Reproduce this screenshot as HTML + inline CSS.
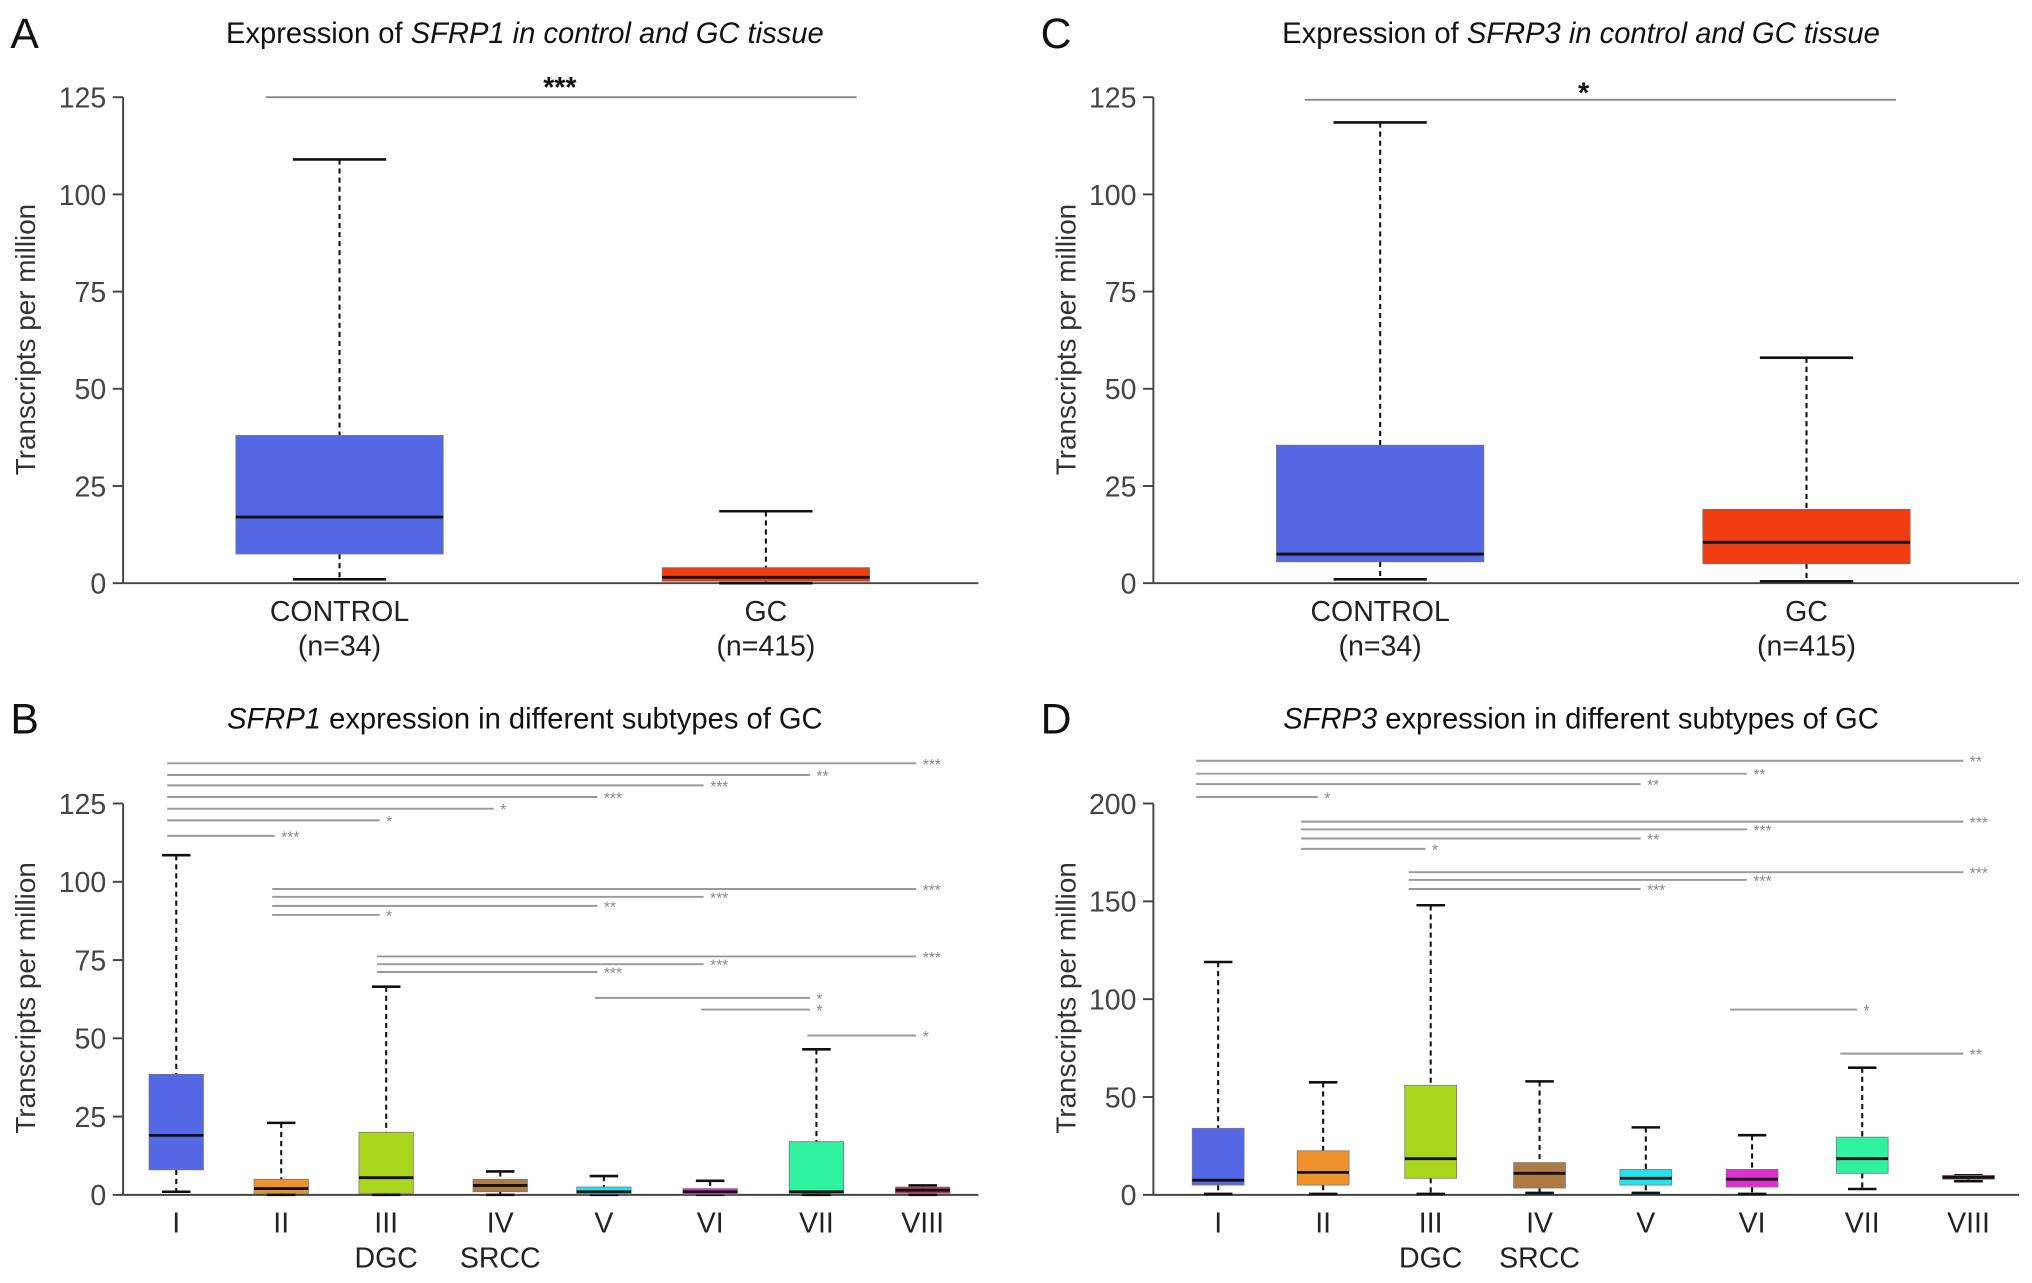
<!DOCTYPE html>
<html><head><meta charset="utf-8"><style>
html,body{margin:0;padding:0;background:#fff}
svg{display:block}
text{font-family:"Liberation Sans",sans-serif}
</style></head><body>
<svg id="fig" width="2032" height="1283" viewBox="0 0 1568 990" preserveAspectRatio="none" xmlns="http://www.w3.org/2000/svg"></svg>
<script>
// ---- data ----
const catsTop = ["CONTROL","GC"];
const nTop = ["(n=34)","(n=415)"];
const sfrp1Top = [[1,7.5,17,38,109],[0,0.5,1.5,4,18.5]];
const sfrp3Top = [[1,5.5,7.5,35.5,118.5],[0.5,5,10.5,19,58]];
const topColors = ["#5468e6","#f03c10"];
const catsSub = ["I","II","III","IV","V","VI","VII","VIII"];
const subLine2 = ["","","DGC","SRCC","","","",""];
const sfrp1Sub = [[1,8,19,38.5,108.5],[0,0.5,2,5,23],[0,0.5,5.5,20,66.5],[0,1,3,5,7.5],[0,0.3,1,2.5,6],[0,0.2,1,2,4.5],[0,0.5,1,17,46.5],[0,0.5,1.5,2.5,3]];
const sfrp3Sub = [[0.5,5,7.5,34,119],[0.5,5,11.5,22.5,57.5],[0.5,8.5,18.5,56,148],[1,3.5,11,16.5,58],[1,5,8.5,13,34.5],[0.5,4,8,13,30.5],[3,11,18.5,29.5,65],[7,8,9,10,10]];
const subColors = ["#5468e6","#f0922a","#abd61e","#b07a45","#22e2f0","#e02ed2","#2ef2a0","#c8305a"];
const ticksTop = [0,25,50,75,100,125];
const ticksB = [0,25,50,75,100,125];
const ticksD = [0,50,100,150,200];
const sigB = [[0,7,"***",589],[0,6,"**",598],[0,5,"***",606],[0,4,"***",615],[0,3,"*",624],[0,2,"*",633],[0,1,"***",645],[1,7,"***",686],[1,5,"***",692],[1,4,"**",699],[1,2,"*",706],[2,7,"***",738],[2,5,"***",744],[2,4,"***",750],[4,6,"*",770],[5,6,"*",779],[6,7,"*",799]];
const sigD = [[0,7,"**",587],[0,5,"**",597],[0,4,"**",605],[0,1,"*",615],[1,7,"***",634],[1,5,"***",640],[1,4,"**",647],[1,2,"*",655],[2,7,"***",673],[2,5,"***",679],[2,4,"***",686],[5,6,"*",779],[6,7,"**",813]];

const svg = document.getElementById('fig');
const NS = "http://www.w3.org/2000/svg";
function el(tag, attrs, parent){const e=document.createElementNS(NS,tag);for(const k in attrs)e.setAttribute(k,attrs[k]);(parent||svg).appendChild(e);return e;}
function txt(s, attrs, parent){const e=el('text',attrs,parent);e.textContent=s;return e;}

function panel(o){
  const g = el('g',{});
  
  
  const y = v => o.y0 - (v/o.ymax)*(o.y0-o.y1);
  const L = txt(o.letter,{x:o.lx,y:o.ly,'font-size':33,fill:'#111'},g);
  
  
  const t = el('text',{x:o.tx,y:o.ty,'font-size':22.5,fill:'#111','text-anchor':'middle'},g);
  
  
  o.title.forEach(p=>{const s=el('tspan',{'font-style':p[1]?'italic':'normal'},t);s.textContent=p[0];});
  const ya = el('line',{x1:o.ax,y1:y(o.ticks[o.ticks.length-1]),x2:o.ax,y2:o.y0,stroke:'#444','stroke-width':1.5},g);
  
  
  const xa = el('line',{x1:o.ax,y1:o.y0,x2:o.xend,y2:o.y0,stroke:'#444','stroke-width':1.5},g);
  
  
  o.ticks.forEach(v=>{
    el('line',{x1:o.ax-8,y1:y(v),x2:o.ax,y2:y(v),stroke:'#444','stroke-width':1.5},g);
    const tl = txt(String(v),{x:o.ax-13,y:y(v)+8,'font-size':22,fill:'#444','text-anchor':'end'},g);
    
    
  });
  const yl = txt('Transcripts per million',{x:0,y:0,'font-size':21.5,fill:'#333','text-anchor':'middle',transform:`translate(${o.ylx},${o.yly}) rotate(-90)`},g);
  
  
  o.data.forEach((d,i)=>{
    const cx=o.cx(i), hw=o.hw, cw=o.capw;
    const bg = el('g',{},g);
    
    
    el('line',{x1:cx,y1:y(d[4]),x2:cx,y2:y(d[3]),stroke:'#111','stroke-width':1.6,'stroke-dasharray':'4,3'},bg);
    el('line',{x1:cx,y1:y(d[1]),x2:cx,y2:y(d[0]),stroke:'#111','stroke-width':1.6,'stroke-dasharray':'4,3'},bg);
    el('line',{x1:cx-cw,y1:y(d[4]),x2:cx+cw,y2:y(d[4]),stroke:'#111','stroke-width':2},bg);
    el('line',{x1:cx-cw,y1:y(d[0]),x2:cx+cw,y2:y(d[0]),stroke:'#111','stroke-width':2},bg);
    el('rect',{x:cx-hw,y:y(d[3]),width:2*hw,height:Math.max(y(d[1])-y(d[3]),1),fill:o.colors[i],stroke:'#777','stroke-width':0.6},bg);
    el('line',{x1:cx-hw,y1:y(d[2]),x2:cx+hw,y2:y(d[2]),stroke:'#111','stroke-width':2.2},bg);
    const xl = txt(o.cats[i],{x:cx,y:o.y0+29,'font-size':22,fill:'#222','text-anchor':'middle'},g);
    
    
    if(o.line2[i]){const x2=txt(o.line2[i],{x:cx,y:o.y0+56,'font-size':22,fill:'#222','text-anchor':'middle'},g);
      
      }
  });
  o.sig.forEach(s=>{
    const sg = el('g',{},g);
    
    
    const x1=o.sx1(s[0]), x2=o.sx2(s[1]);
    el('line',{x1:x1,y1:s[3],x2:x2,y2:s[3],stroke:o.sigColor,'stroke-width':o.sigW},sg);
    txt(s[2],{x:o.sigLabelX?o.sigLabelX(x1,x2):x2+5,y:s[3]+o.sigDy,'font-size':o.sigFs,fill:o.sigTxt,'text-anchor':o.sigLabelX?'middle':'start','font-weight':o.sigBold?'bold':'normal'},sg);
  });
}

panel({name:'panel-a',letter:'A',lx:8,ly:37,title:[["Expression of ",0],["SFRP1 in control and GC tissue",1]],tx:405,ty:33,
 ax:95,xend:755,y0:450,y1:75,ymax:125,ticks:ticksTop,ylx:27,yly:262,
 data:sfrp1Top,cats:catsTop,line2:nTop,colors:topColors,cx:i=>[262,591][i],hw:80,capw:36,
 sig:[[0,1,"***",75]],sx1:i=>205,sx2:i=>661,sigColor:'#888',sigW:1.5,sigTxt:'#111',sigFs:22,sigDy:0,sigBold:true,sigLabelX:(a,b)=>432});
panel({name:'panel-c',letter:'C',lx:803,ly:37,title:[["Expression of ",0],["SFRP3 in control and GC tissue",1]],tx:1220,ty:33,
 ax:890,xend:1558,y0:450,y1:75,ymax:125,ticks:ticksTop,ylx:830,yly:262,
 data:sfrp3Top,cats:catsTop,line2:nTop,colors:topColors,cx:i=>[1065,1394][i],hw:80,capw:36,
 sig:[[0,1,"*",77]],sx1:i=>1007,sx2:i=>1463,sigColor:'#888',sigW:1.5,sigTxt:'#111',sigFs:22,sigDy:2,sigBold:true,sigLabelX:(a,b)=>1222});
const cxB=[136,217,298,386,466,548,630,712];
panel({name:'panel-b',letter:'B',lx:8,ly:566,title:[["SFRP1",1],[" expression in different subtypes of GC",0]],tx:405,ty:562,
 ax:95,xend:755,y0:922,y1:620,ymax:125,ticks:ticksB,ylx:27,yly:770,
 data:sfrp1Sub,cats:catsSub,line2:subLine2,colors:subColors,cx:i=>cxB[i],hw:21,capw:11,
 sig:sigB,sx1:i=>cxB[i]-7,sx2:i=>cxB[i]-5,sigColor:'#999',sigW:1.5,sigTxt:'#888',sigFs:12,sigDy:5,sigBold:false});
const cxD=[940,1021,1104,1188,1270,1352,1437,1519];
panel({name:'panel-d',letter:'D',lx:803,ly:566,title:[["SFRP3",1],[" expression in different subtypes of GC",0]],tx:1220,ty:562,
 ax:890,xend:1558,y0:922,y1:620,ymax:200,ticks:ticksD,ylx:830,yly:770,
 data:sfrp3Sub,cats:catsSub,line2:subLine2,colors:subColors,cx:i=>cxD[i],hw:20,capw:11,
 sig:sigD,sx1:i=>cxD[i]-17,sx2:i=>cxD[i]-4,sigColor:'#999',sigW:1.5,sigTxt:'#888',sigFs:12,sigDy:5,sigBold:false});
</script>
</body></html>
